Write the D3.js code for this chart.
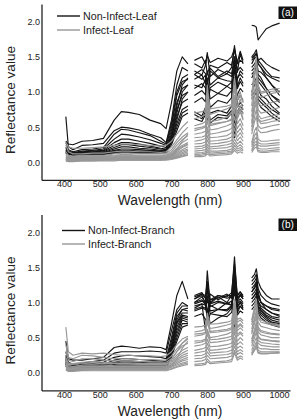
<!DOCTYPE html>
<html><head><meta charset="utf-8">
<script src="https://cdn.jsdelivr.net/npm/d3@7"></script>
<style>body{margin:0;background:#fff}svg{display:block;font-family:Arial,"Liberation Sans",sans-serif}</style>
</head><body><svg id="c" width="302" height="420"></svg>
<script>
const wavelengths = [405,412,425,450,480,510,540,560,580,610,640,670,685,700,715,730,746, 764,785,795,800,808,830,855,868,876,884,892,900, 924,932,937,942,950,965,980,1002];
const segments = [[0,17],[17,29],[29,37]];
const yTicks = [0,0.5,1,1.5,2];
const xTicks = [400,500,600,700,800,900,1000];

const leafNonInfect = [
[.30,.26,.25,.30,.31,.34,.60,.72,.71,.68,.60,.55,.48,.85,1.30,1.50,1.40, 1.45,1.50,1.40,1.52,1.42,1.48,1.44,1.50,1.62,1.42,1.58,1.45, 1.95,1.94,1.92,1.74,1.80,1.90,1.94,1.98],
[.65,.22,.18,.24,.25,.27,.45,.50,.49,.46,.40,.35,.28,.60,1.10,1.35,1.30, 1.30,1.24,1.38,1.56,1.22,1.32,1.26,1.35,1.66,1.28,1.55,1.40, 1.50,1.55,1.60,1.45,1.48,1.40,1.35,1.30],
[.28,.18,.15,.18,.19,.21,.40,.47,.46,.42,.38,.30,.26,.55,1.00,1.20,1.25, 1.25,1.18,1.24,0.70,1.30,1.20,1.26,1.22,1.45,1.18,1.30,1.25, 1.45,1.50,1.55,1.40,1.35,1.25,1.20,1.15],
[.22,.16,.14,.16,.17,.19,.33,.40,.39,.36,.32,.27,.24,.50,.95,1.15,1.18, 1.18,1.24,1.12,1.30,1.10,1.20,1.16,1.15,0.60,1.20,1.25,1.20, 1.35,1.40,1.45,1.30,1.28,1.20,1.10,1.00],
[.20,.15,.13,.15,.16,.17,.28,.33,.33,.30,.27,.23,.21,.45,.85,1.05,1.10, 1.05,1.12,1.06,0.80,1.04,0.98,1.08,1.04,1.40,1.05,1.15,1.08, 1.30,1.35,1.40,1.25,1.20,1.05,0.95,0.85],
[.18,.14,.13,.14,.15,.16,.24,.28,.28,.26,.23,.20,.19,.40,.75,.95,1.00, 0.95,1.02,0.96,1.20,0.90,0.98,0.94,1.02,0.50,0.96,1.05,1.00, 1.20,1.28,1.35,1.15,1.10,1.00,0.88,0.78],
[.17,.14,.12,.13,.14,.15,.21,.25,.25,.23,.21,.19,.18,.35,.65,.85,.90, 0.72,0.66,0.78,0.60,0.70,0.74,0.70,0.80,1.20,0.78,0.85,0.80, 1.10,1.15,1.20,1.05,0.95,0.90,0.80,0.70],
[.16,.13,.12,.13,.13,.14,.19,.22,.22,.20,.19,.17,.17,.30,.55,.75,.80, 0.68,0.62,0.72,0.90,0.60,0.68,0.66,0.74,0.40,0.72,0.80,0.75, 0.95,1.00,1.05,0.90,0.85,0.78,0.70,0.62],
[.15,.12,.11,.12,.12,.13,.17,.19,.19,.18,.17,.16,.16,.28,.50,.70,.75, 1.40,1.34,1.45,1.25,1.38,1.34,1.42,1.38,1.60,1.40,1.45,1.42, 1.48,1.52,1.55,1.45,1.40,1.30,1.22,1.20],
[.15,.12,.11,.12,.12,.13,.16,.17,.17,.16,.16,.15,.15,.35,.70,1.00,1.10, 1.25,1.32,1.26,1.10,1.34,1.22,1.30,1.26,1.50,1.30,1.35,1.30, 1.40,1.48,1.50,1.40,1.35,1.20,1.10,0.95],
[.14,.12,.11,.11,.12,.12,.15,.16,.16,.15,.15,.14,.15,.40,.80,1.10,1.20, 0.85,0.92,0.86,1.10,0.78,0.88,0.84,0.92,1.35,0.88,0.95,0.88, 1.00,1.10,1.15,0.95,0.90,0.82,0.75,0.68],
[.13,.11,.10,.11,.11,.12,.14,.15,.15,.14,.14,.14,.14,.30,.60,.90,1.00, 1.10,1.06,1.18,0.90,1.06,1.14,1.08,1.14,1.50,1.08,1.20,1.12, 1.25,1.30,1.35,1.20,1.15,1.05,0.95,0.88],
[.13,.11,.10,.11,.11,.11,.13,.14,.14,.13,.13,.13,.14,.25,.45,.65,.70, 0.62,0.58,0.68,0.80,0.56,0.64,0.62,0.70,0.35,0.68,0.75,0.70, 0.90,0.95,1.00,0.85,0.78,0.72,0.65,0.58]
];

const leafInfect = [
[.28,.22,.20,.20,.21,.22,.24,.26,.26,.25,.24,.23,.24,.30,.40,.50,.58, .62,.65,.68,1.10,.68,.72,.76,.80,1.20,.90,1.00,.85, .90,1.30,1.50,1.10,1.00,1.02,1.04,1.05],
[.25,.15,.12,.12,.13,.13,.15,.16,.16,.15,.15,.14,.15,.22,.32,.42,.50, .52,.55,.58,.95,.58,.60,.64,.70,1.05,.78,.90,.75, .80,1.20,1.35,.95,.92,.95,.98,1.00],
[.12,.10,.09,.10,.10,.10,.12,.13,.13,.12,.12,.12,.13,.18,.28,.36,.42, .45,.48,.50,.85,.52,.55,.58,.62,.95,.70,.80,.68, .72,1.00,1.20,.85,.80,.82,.85,.88],
[.10,.08,.08,.08,.09,.09,.10,.11,.11,.10,.10,.10,.11,.15,.24,.32,.38, .40,.42,.44,.70,.46,.48,.52,.55,.85,.62,.72,.60, .65,.95,1.05,.75,.70,.72,.75,.78],
[.08,.07,.07,.07,.08,.08,.09,.10,.10,.09,.09,.09,.10,.13,.20,.28,.33, .35,.36,.38,.60,.40,.42,.45,.48,.75,.55,.62,.52, .58,.85,.95,.68,.62,.64,.66,.68],
[.07,.06,.06,.06,.07,.07,.08,.09,.09,.08,.08,.08,.09,.12,.18,.24,.28, .30,.32,.34,.50,.35,.36,.38,.42,.65,.48,.55,.46, .50,.75,.85,.60,.55,.56,.58,.60],
[.06,.05,.05,.05,.06,.06,.07,.08,.08,.07,.07,.07,.08,.10,.16,.21,.25, .26,.27,.29,.45,.30,.31,.33,.36,.55,.42,.48,.40, .45,.65,.75,.52,.48,.50,.52,.54],
[.05,.04,.04,.05,.05,.05,.06,.07,.07,.06,.06,.06,.07,.09,.14,.18,.22, .22,.23,.25,.38,.26,.27,.29,.31,.48,.36,.42,.35, .40,.58,.65,.46,.42,.43,.45,.47],
[.05,.04,.04,.04,.05,.05,.05,.06,.06,.06,.06,.06,.06,.08,.12,.16,.19, .19,.20,.22,.32,.22,.23,.25,.27,.40,.31,.36,.30, .28,.45,.50,.33,.30,.30,.31,.32],
[.04,.03,.03,.04,.04,.04,.05,.05,.05,.05,.05,.05,.06,.07,.10,.14,.17, .16,.17,.18,.26,.19,.20,.21,.23,.33,.26,.30,.25, .25,.38,.42,.28,.26,.26,.27,.28],
[.04,.03,.03,.03,.04,.04,.04,.05,.05,.04,.04,.05,.05,.06,.09,.12,.15, .13,.14,.15,.22,.16,.16,.17,.19,.28,.22,.25,.21, .22,.32,.36,.24,.23,.23,.24,.25],
[.03,.02,.02,.03,.03,.03,.04,.04,.04,.04,.04,.04,.04,.05,.08,.10,.13, .11,.12,.13,.18,.13,.14,.15,.16,.24,.19,.21,.18, .18,.28,.30,.20,.19,.19,.20,.21],
[.02,.02,.02,.02,.02,.03,.03,.03,.03,.03,.03,.03,.04,.05,.07,.09,.11, .09,.10,.11,.15,.11,.12,.13,.14,.20,.16,.18,.16, .16,.24,.26,.17,.16,.16,.17,.18],
[.02,.01,.01,.02,.02,.02,.02,.03,.03,.03,.03,.03,.03,.04,.06,.08,.10, .08,.08,.09,.12,.09,.10,.11,.12,.17,.13,.15,.13, .14,.20,.22,.15,.14,.14,.15,.15],
[.15,.10,.08,.07,.06,.06,.06,.07,.07,.06,.06,.06,.07,.10,.18,.30,.40, .70,.72,.75,1.00,.76,.78,.80,.82,1.10,.88,.95,.85, .95,1.35,1.45,1.05,.98,1.00,1.01,1.02],
[.08,.06,.05,.05,.05,.05,.06,.06,.06,.06,.06,.06,.07,.10,.16,.22,.26, .48,.50,.52,.78,.54,.56,.58,.60,.90,.66,.75,.62, .55,.80,.90,.62,.58,.60,.62,.64]
];

const branchNonInfect = [
[.45,.20,.18,.18,.20,.22,.36,.38,.37,.35,.37,.36,.33,.70,1.10,1.30,1.05, 1.00,1.08,1.00,1.45,0.98,1.08,1.00,1.10,1.65,1.02,1.10,1.05, 1.35,1.40,1.48,1.30,1.20,1.10,1.05,1.05],
[.30,.15,.12,.14,.16,.18,.28,.30,.30,.30,.31,.30,.28,.60,.90,1.00,.95, 0.95,0.98,0.60,0.90,0.70,0.78,0.84,0.92,1.40,0.85,0.95,0.90, 1.25,1.30,1.35,1.15,1.00,0.90,0.85,0.80],
[.25,.12,.10,.12,.13,.15,.22,.24,.25,.24,.23,.22,.20,.50,.85,.95,.95, 1.05,1.12,1.06,1.15,1.00,1.10,1.06,1.08,1.25,1.10,1.15,1.08, 1.20,1.25,1.30,1.10,1.00,0.95,0.92,0.90],
[.22,.10,.08,.10,.11,.12,.18,.20,.20,.19,.18,.17,.16,.45,.80,.90,.92, 0.92,0.98,0.96,0.80,0.96,0.90,1.00,0.96,1.30,0.95,1.00,0.95, 1.15,1.20,1.25,1.00,0.92,0.85,0.80,0.78],
[.20,.09,.07,.09,.10,.11,.15,.17,.17,.16,.16,.15,.14,.40,.75,.90,.88, 1.00,1.04,0.96,1.20,0.98,1.02,0.98,1.02,0.70,1.00,1.05,1.00, 1.05,1.10,1.15,0.95,0.90,0.82,0.78,0.75],
[.18,.08,.07,.08,.09,.10,.14,.15,.15,.15,.14,.14,.13,.38,.72,.85,.85, 0.90,0.94,0.92,1.10,0.88,0.90,0.90,0.96,1.20,0.92,1.00,0.92, 1.10,1.15,1.20,1.02,0.95,0.90,0.85,0.82],
[.16,.07,.06,.07,.08,.09,.12,.13,.13,.13,.12,.12,.12,.35,.70,.82,.80, 1.10,1.14,1.06,0.85,1.12,1.04,1.10,1.10,1.35,1.08,1.10,1.05, 1.00,1.05,1.10,0.92,0.85,0.78,0.72,0.70],
[.15,.06,.05,.06,.07,.08,.10,.11,.11,.11,.11,.11,.11,.32,.65,.80,.78, 0.98,1.02,1.00,1.25,0.94,1.00,0.98,0.96,0.60,0.98,1.02,0.98, 0.95,1.00,1.05,0.88,0.82,0.75,0.70,0.68],
[.14,.06,.05,.06,.06,.07,.09,.10,.10,.10,.10,.10,.10,.30,.60,.78,.75, 1.05,1.10,0.98,0.75,1.04,1.06,1.12,1.06,1.45,1.05,1.12,1.08, 1.30,1.35,1.40,1.20,1.10,1.02,0.98,0.95],
[.13,.05,.05,.05,.06,.06,.08,.09,.09,.09,.09,.09,.09,.28,.55,.75,.72, 0.88,0.92,0.90,1.05,0.84,0.90,0.88,0.94,1.15,0.90,0.95,0.90, 0.90,0.95,1.00,0.85,0.78,0.72,0.68,0.65],
[.12,.05,.04,.05,.05,.06,.07,.08,.08,.08,.08,.08,.08,.25,.50,.70,.70, 0.80,0.84,0.76,0.70,0.84,0.82,0.80,0.86,1.00,0.82,0.88,0.85, 1.05,1.10,1.15,0.95,0.88,0.80,0.75,0.72],
[.10,.04,.04,.04,.05,.05,.06,.07,.07,.07,.07,.07,.07,.22,.45,.65,.68, 1.08,1.12,1.10,1.30,1.04,1.10,1.08,1.14,1.55,1.10,1.15,1.10, 1.15,1.22,1.28,1.08,1.00,0.95,0.90,0.88]
];

const branchInfect = [
[.65,.30,.25,.28,.27,.28,.26,.25,.25,.24,.24,.23,.24,.30,.40,.48,.52, .58,.60,.62,.80,.63,.65,.68,.70,1.00,.72,.75,.70, .72,.90,1.00,.78,.72,.70,.68,.66],
[.40,.22,.20,.25,.24,.22,.20,.20,.20,.19,.19,.18,.18,.24,.34,.42,.48, .52,.54,.56,.72,.57,.58,.60,.62,.90,.64,.68,.64, .68,.85,.95,.72,.66,.64,.62,.60],
[.30,.18,.16,.20,.20,.18,.17,.17,.17,.16,.16,.15,.15,.20,.30,.38,.42, .45,.46,.48,.62,.50,.52,.55,.58,.85,.60,.64,.60, .62,.78,.88,.65,.60,.58,.56,.55],
[.22,.12,.12,.14,.14,.13,.13,.13,.13,.12,.12,.12,.12,.16,.25,.32,.36, .38,.40,.42,.55,.43,.44,.46,.48,.75,.52,.56,.52, .55,.70,.80,.58,.54,.52,.50,.50],
[.18,.10,.09,.11,.11,.11,.10,.10,.10,.10,.10,.10,.10,.14,.22,.28,.32, .32,.34,.36,.48,.37,.38,.40,.42,.65,.45,.50,.46, .48,.62,.72,.52,.48,.47,.46,.45],
[.15,.08,.08,.09,.09,.09,.09,.09,.09,.09,.09,.09,.09,.12,.19,.25,.28, .28,.30,.31,.42,.32,.33,.35,.37,.58,.40,.44,.40, .42,.55,.65,.46,.43,.42,.41,.40],
[.12,.07,.07,.08,.08,.08,.08,.08,.08,.08,.08,.08,.08,.11,.17,.22,.25, .24,.25,.27,.36,.28,.29,.30,.32,.50,.35,.38,.35, .38,.50,.58,.42,.39,.38,.37,.37],
[.10,.06,.06,.07,.07,.07,.07,.07,.07,.07,.07,.07,.07,.10,.15,.19,.22, .20,.21,.23,.30,.24,.25,.26,.28,.44,.30,.33,.30, .32,.44,.50,.36,.34,.34,.33,.33],
[.08,.05,.05,.06,.06,.06,.06,.06,.06,.06,.06,.06,.06,.09,.13,.17,.19, .16,.17,.19,.25,.20,.21,.22,.24,.38,.26,.29,.26, .28,.38,.44,.32,.30,.30,.30,.30],
[.06,.04,.04,.05,.05,.05,.05,.05,.05,.05,.05,.05,.05,.08,.11,.14,.16, .12,.13,.14,.20,.15,.16,.17,.19,.32,.21,.24,.22, .26,.34,.40,.29,.28,.28,.28,.29],
[.05,.03,.03,.04,.04,.04,.04,.04,.04,.04,.04,.04,.04,.06,.09,.12,.14, .10,.11,.12,.16,.13,.14,.15,.16,.28,.18,.21,.19, .25,.32,.36,.28,.27,.27,.28,.28],
[.04,.02,.02,.03,.03,.03,.03,.03,.03,.03,.03,.03,.03,.05,.08,.10,.12, .65,.66,.68,.85,.69,.70,.72,.74,1.05,.76,.78,.74, .75,.95,1.05,.80,.75,.72,.70,.68],
[.14,.06,.05,.06,.06,.06,.06,.06,.06,.06,.06,.06,.07,.10,.20,.35,.45, .55,.56,.58,.75,.59,.60,.62,.64,.95,.66,.70,.66, .58,.75,.85,.62,.58,.56,.55,.54],
[.20,.14,.13,.15,.16,.15,.14,.14,.14,.13,.13,.13,.13,.18,.30,.42,.50, .42,.44,.46,.60,.47,.48,.50,.52,.80,.55,.58,.55, .45,.58,.68,.50,.47,.46,.45,.44]
];

const panels = [
  {tag:"(a)", names:["Non-Infect-Leaf","Infect-Leaf"], dark:leafNonInfect, light:leafInfect, top:0, legY:[16,30], legX:57},
  {tag:"(b)", names:["Non-Infect-Branch","Infect-Branch"], dark:branchNonInfect, light:branchInfect, top:210.5, legY:[20,33.5], legX:62}
];

const DARK = "#151515", LIGHT = "#979797";
const svg = d3.select("#c");
const x = d3.scaleLinear().domain([337,1031]).range([41.5,290]);
const y = d3.scaleLinear().domain([-0.25,2.25]).range([179.9,4.1]);

panels.forEach(p => {
  const g = svg.append("g").attr("transform", `translate(0,${p.top})`);
  const line = d3.line().x(d => x(d[0])).y(d => y(d[1]));
  const drawSet = (set, color) => {
    set.forEach(vals => {
      segments.forEach(([a,b]) => {
        const pts = d3.range(a,b).map(i => [wavelengths[i], vals[i]]);
        g.append("path").attr("d", line(pts)).attr("fill","none")
          .attr("stroke", color).attr("stroke-width", 1.15).attr("stroke-linejoin","round");
      });
    });
  };
  drawSet(p.dark, DARK);
  drawSet(p.light, LIGHT);

  const ya = g.append("g").attr("transform","translate(41.5,0)")
    .call(d3.axisLeft(y).tickValues(yTicks).tickFormat(d3.format(".1f")).tickSize(0).tickPadding(1.5));
  const xa = g.append("g").attr("transform","translate(0,179.9)")
    .call(d3.axisBottom(x).tickValues(xTicks).tickFormat(d3.format("d")).tickSize(0).tickPadding(1));
  [ya, xa].forEach(a => {
    a.select(".domain").attr("stroke","#222").attr("stroke-width",1.3);
    a.selectAll("text").attr("font-size","9px").attr("font-family","Arial, 'Liberation Sans', sans-serif").attr("fill","#222");
  });

  g.append("text").attr("transform","translate(15,100) rotate(-90)").attr("text-anchor","middle")
    .attr("font-size","13.6px").attr("fill","#222").text("Reflectance value");
  g.append("text").attr("x",170).attr("y",205).attr("text-anchor","middle")
    .attr("font-size","13.8px").attr("fill","#222").text("Wavelength (nm)");

  [DARK, LIGHT].forEach((c,i) => {
    g.append("line").attr("x1",p.legX).attr("x2",p.legX+23).attr("y1",p.legY[i]).attr("y2",p.legY[i])
      .attr("stroke",c).attr("stroke-width",1.4);
    g.append("text").attr("x",p.legX+26).attr("y",p.legY[i]+3.8).attr("font-size","10.7px")
      .attr("fill","#222").text(p.names[i]);
  });

  g.append("rect").attr("x",278.5).attr("y",p.top ? 8 : 6.5).attr("width",18.5).attr("height",12.5).attr("fill","#111");
  g.append("text").attr("x",287.7).attr("y",(p.top ? 8 : 6.5)+9.6).attr("text-anchor","middle")
    .attr("font-size","10px").attr("fill","#fff").text(p.tag);
});
</script></body></html>
